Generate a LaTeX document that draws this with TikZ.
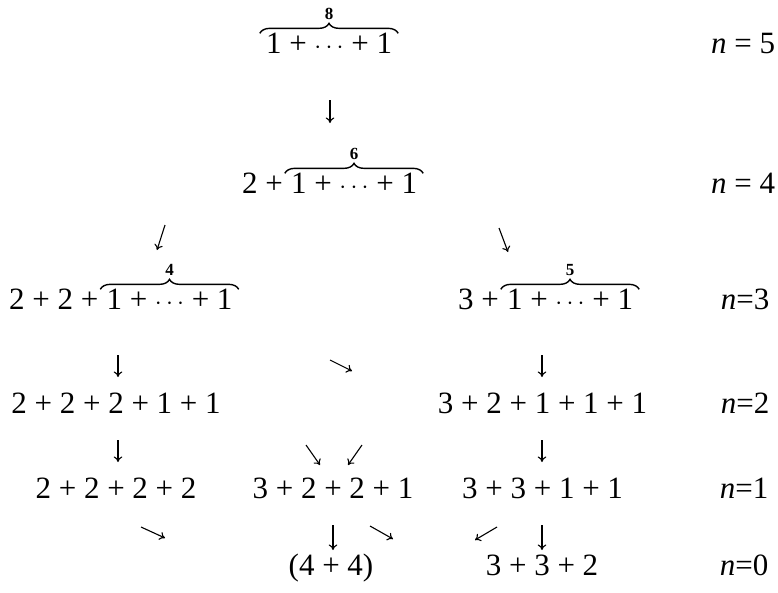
\documentclass[tikz,border=0pt]{standalone}
\usepackage{fontspec}
\setmainfont{LiberationSerif}[Extension=.ttf,UprightFont=*-Regular,ItalicFont=*-Italic,BoldFont=*-Bold,BoldItalicFont=*-BoldItalic]
\usetikzlibrary{arrows.meta,decorations.pathreplacing}
\begin{document}
\begin{tikzpicture}[x=1pt,y=-1pt,
  lab/.style={anchor=base,inner sep=0pt,font=\fontsize{31}{37}\selectfont},
  pre/.style={anchor=base east,inner sep=0pt,font=\fontsize{31}{37}\selectfont},
  brc/.style={decorate,decoration={brace,amplitude=10pt},line width=1.4pt},
  blab/.style={inner sep=0pt,font=\fontsize{17}{20}\selectfont\bfseries},
  arr/.style={line width=1.1pt,-{To[length=5.5pt,width=8.5pt]}}]
\useasboundingbox (0,0) rectangle (778,592);
\newcommand{\dts}{$\cdots$}
\newcommand{\gap}{\kern0.25em}
% row n=5
\node[lab] (p5) at (329,53) {1 + \dts{} + 1};
\draw[brc] ([xshift=-6pt,yshift=-1pt]p5.north west) -- ([xshift=6pt,yshift=-1pt]p5.north east)
  node[blab,midway,above=13pt] (b5) {8};
\node[lab] (n5) at (743,53) {\textit{n} = 5};
% row n=4
\node[lab] (p4) at (354,193) {1 + \dts{} + 1};
\node[pre] (p4pre) at (p4.base west) {2 +\gap};
\draw[brc] ([xshift=-6pt,yshift=-1pt]p4.north west) -- ([xshift=6pt,yshift=-1pt]p4.north east)
  node[blab,midway,above=13pt] (b4) {6};
\node[lab] (n4) at (743,193) {\textit{n} = 4};
% row n=3
\node[lab] (p3a) at (169.5,309) {1 + \dts{} + 1};
\node[pre] (p3apre) at (p3a.base west) {2 + 2 +\gap};
\draw[brc] ([xshift=-6pt,yshift=-1pt]p3a.north west) -- ([xshift=6pt,yshift=-1pt]p3a.north east)
  node[blab,midway,above=13pt] (b3a) {4};
\node[lab] (p3b) at (570,309) {1 + \dts{} + 1};
\node[pre] (p3bpre) at (p3b.base west) {3 +\gap};
\draw[brc] ([xshift=-6pt,yshift=-1pt]p3b.north west) -- ([xshift=6pt,yshift=-1pt]p3b.north east)
  node[blab,midway,above=13pt] (b3b) {5};
\node[lab] (n3) at (745,309) {\textit{n}=3};
% row n=2
\node[lab] (p2a) at (116,413) {2 + 2 + 2 + 1 + 1};
\node[lab] (p2b) at (542.5,413) {3 + 2 + 1 + 1 + 1};
\node[lab] (n2) at (745,413) {\textit{n}=2};
% row n=1
\node[lab] (p1a) at (116,498) {2 + 2 + 2 + 2};
\node[lab] (p1b) at (333,498) {3 + 2 + 2 + 1};
\node[lab] (p1c) at (542.5,498) {3 + 3 + 1 + 1};
\node[lab] (n1) at (744,498) {\textit{n}=1};
% row n=0
\node[lab] (p0a) at (331,575) {(4 + 4)};
\node[lab] (p0b) at (542,575) {3 + 3 + 2};
\node[lab] (n0) at (744,575) {\textit{n}=0};
% arrows
\coordinate (a1s) at (330,100);  \coordinate (a1e) at (330,123);
\coordinate (a2s) at (165,225);  \coordinate (a2e) at (157,250);
\coordinate (a3s) at (499,228);  \coordinate (a3e) at (508,252);
\coordinate (a4s) at (118,355);  \coordinate (a4e) at (118,377);
\coordinate (a5s) at (330,360);  \coordinate (a5e) at (352,371);
\coordinate (a6s) at (542,355);  \coordinate (a6e) at (542,377);
\coordinate (a7s) at (118,440);  \coordinate (a7e) at (118,462);
\coordinate (a8s) at (306,445);  \coordinate (a8e) at (320,465);
\coordinate (a9s) at (362,445);  \coordinate (a9e) at (348,465);
\coordinate (a10s) at (542,440); \coordinate (a10e) at (542,462);
\coordinate (a11s) at (141,527); \coordinate (a11e) at (165,538);
\coordinate (a12s) at (333,525); \coordinate (a12e) at (333,550);
\coordinate (a13s) at (370,526); \coordinate (a13e) at (393,539);
\coordinate (a14s) at (497,527); \coordinate (a14e) at (475,540);
\coordinate (a15s) at (542,525); \coordinate (a15e) at (542,550);
\foreach \i in {1,...,15} {\draw[arr] (a\i s) -- (a\i e);}
\end{tikzpicture}
\end{document}
